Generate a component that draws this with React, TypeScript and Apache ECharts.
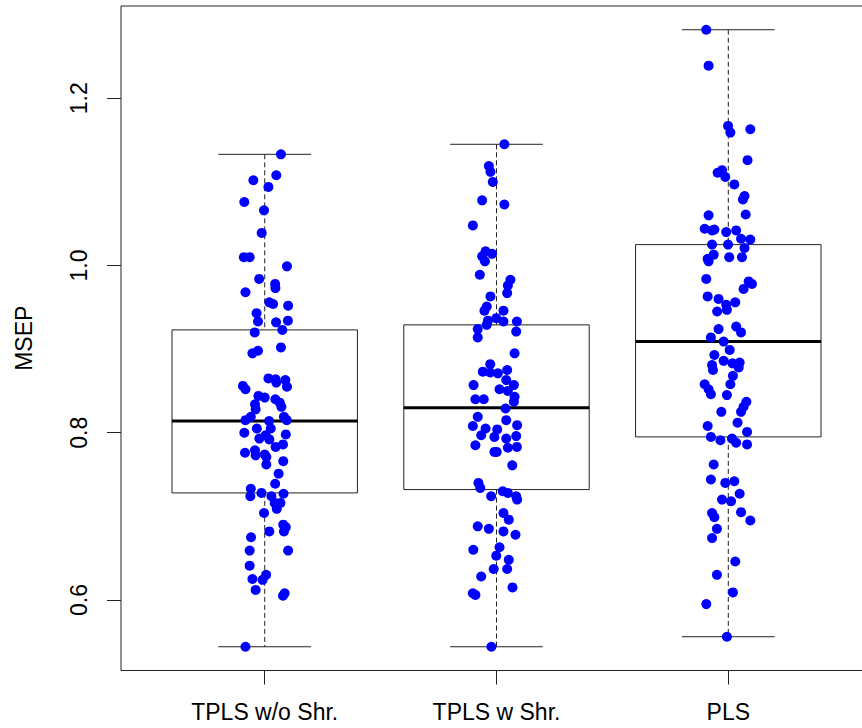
import React, { useEffect, useRef } from 'react';
import * as echarts from 'echarts';

const categories = ['TPLS w/o Shr.', 'TPLS w Shr.', 'PLS'];
const whiskerLow = [0.544, 0.544, 0.556];
const quartile1 = [0.728, 0.732, 0.795];
const medians = [0.814, 0.83, 0.909];
const quartile3 = [0.923, 0.929, 1.025];
const whiskerHigh = [1.133, 1.145, 1.282];
const yTicks = [0.6, 0.8, 1.0, 1.2];

// each point: [horizontal jitter offset, MSEP]
const tplsWoShrPoints: [number, number][] = [
  [0.07, 1.133], [-0.049, 1.102], [0.05, 1.108], [0.016, 1.094], [-0.088, 1.076],
  [-0.003, 1.066], [-0.013, 1.039], [-0.09, 1.01], [-0.065, 1.01], [0.096, 0.999],
  [-0.024, 0.984], [0.045, 0.978], [0.046, 0.973], [-0.083, 0.968], [0.02, 0.956],
  [0.036, 0.954], [0.101, 0.952], [-0.035, 0.943], [-0.029, 0.933], [0.049, 0.932],
  [0.1, 0.934], [0.076, 0.923], [-0.043, 0.92], [-0.053, 0.895], [-0.029, 0.898],
  [0.07, 0.902], [0.016, 0.865], [0.047, 0.864], [0.05, 0.86], [0.089, 0.863],
  [0.096, 0.855], [-0.094, 0.856], [-0.083, 0.852], [-0.027, 0.844], [0.0, 0.842],
  [0.046, 0.84], [0.065, 0.836], [0.072, 0.831], [-0.042, 0.834], [-0.039, 0.828],
  [-0.06, 0.819], [-0.083, 0.815], [0.019, 0.814], [0.083, 0.819], [0.095, 0.815],
  [-0.034, 0.805], [0.026, 0.805], [-0.088, 0.8], [0.004, 0.797], [-0.023, 0.793],
  [0.02, 0.792], [0.091, 0.798], [0.079, 0.786], [0.047, 0.783], [-0.085, 0.776],
  [-0.042, 0.779], [-0.039, 0.773], [0.0, 0.774], [0.007, 0.771], [0.08, 0.766],
  [0.007, 0.762], [0.06, 0.751], [0.045, 0.739], [-0.06, 0.733], [-0.062, 0.724],
  [-0.014, 0.728], [0.029, 0.724], [0.081, 0.727], [0.043, 0.716], [0.068, 0.716],
  [0.052, 0.709], [-0.003, 0.704], [0.08, 0.69], [0.091, 0.687], [0.083, 0.682],
  [0.02, 0.682], [-0.059, 0.675], [-0.065, 0.659], [0.101, 0.659], [-0.065, 0.641],
  [0.006, 0.63], [-0.009, 0.624], [-0.053, 0.625], [-0.039, 0.612], [0.086, 0.608],
  [0.079, 0.605], [-0.083, 0.544],
];

const tplsWShrPoints: [number, number][] = [
  [0.034, 1.145], [-0.033, 1.119], [-0.026, 1.112], [-0.016, 1.1], [-0.062, 1.078],
  [0.034, 1.073], [-0.102, 1.048], [-0.047, 1.017], [-0.019, 1.014], [-0.062, 1.011],
  [-0.05, 1.005], [-0.072, 0.989], [0.06, 0.983], [0.049, 0.976], [0.046, 0.967],
  [-0.026, 0.963], [-0.042, 0.951], [-0.052, 0.946], [0.03, 0.946], [-0.001, 0.937],
  [-0.037, 0.934], [0.03, 0.933], [0.088, 0.933], [-0.042, 0.929], [-0.081, 0.924],
  [0.085, 0.921], [-0.081, 0.914], [0.078, 0.895], [-0.027, 0.882], [-0.059, 0.873],
  [-0.027, 0.872], [0.006, 0.871], [0.046, 0.875], [-0.099, 0.857], [0.042, 0.863],
  [0.075, 0.857], [0.013, 0.852], [0.049, 0.85], [0.078, 0.843], [0.075, 0.837],
  [0.039, 0.829], [-0.091, 0.84], [-0.055, 0.84], [-0.081, 0.819], [-0.102, 0.808],
  [0.042, 0.815], [0.089, 0.809], [-0.047, 0.805], [0.003, 0.804], [-0.066, 0.797],
  [-0.009, 0.795], [0.042, 0.793], [0.085, 0.796], [-0.091, 0.785], [0.049, 0.782],
  [0.088, 0.783], [-0.009, 0.777], [0.001, 0.777], [0.068, 0.761], [-0.078, 0.74],
  [-0.07, 0.734], [-0.023, 0.724], [0.027, 0.73], [0.049, 0.728], [0.085, 0.724],
  [0.089, 0.72], [0.03, 0.704], [0.053, 0.696], [-0.081, 0.688], [-0.033, 0.685],
  [0.03, 0.682], [0.082, 0.678], [0.013, 0.663], [-0.1, 0.66], [-0.001, 0.653],
  [0.053, 0.648], [-0.012, 0.637], [0.046, 0.637], [-0.066, 0.628], [0.069, 0.615],
  [-0.102, 0.608], [-0.091, 0.606], [-0.022, 0.544],
];

const plsPoints: [number, number][] = [
  [-0.095, 1.282], [-0.085, 1.239], [-0.001, 1.167], [0.009, 1.159], [0.095, 1.163],
  [0.083, 1.126], [-0.046, 1.111], [-0.027, 1.114], [-0.013, 1.106], [0.026, 1.097],
  [0.07, 1.083], [0.063, 1.079], [-0.085, 1.06], [0.075, 1.061], [-0.102, 1.044],
  [-0.06, 1.043], [-0.07, 1.042], [-0.009, 1.04], [0.034, 1.042], [0.055, 1.032],
  [0.095, 1.031], [-0.07, 1.025], [-0.001, 1.025], [0.07, 1.021], [-0.063, 1.013],
  [-0.089, 1.008], [-0.085, 1.005], [0.004, 1.01], [0.059, 1.01], [-0.095, 0.984],
  [0.088, 0.981], [0.102, 0.978], [0.066, 0.972], [-0.089, 0.963], [-0.042, 0.96],
  [-0.009, 0.953], [0.03, 0.956], [-0.048, 0.945], [-0.006, 0.947], [0.034, 0.927],
  [0.055, 0.92], [-0.042, 0.924], [-0.075, 0.914], [-0.02, 0.909], [0.006, 0.899],
  [-0.06, 0.893], [-0.02, 0.886], [0.018, 0.883], [0.049, 0.884], [0.045, 0.878],
  [-0.07, 0.881], [-0.066, 0.875], [0.02, 0.868], [0.009, 0.858], [-0.102, 0.858],
  [-0.085, 0.852], [-0.075, 0.846], [-0.006, 0.845], [0.078, 0.837], [0.066, 0.831],
  [0.055, 0.825], [-0.03, 0.825], [0.04, 0.812], [-0.089, 0.808], [0.081, 0.801],
  [-0.075, 0.795], [0.016, 0.793], [-0.034, 0.791], [0.034, 0.788], [0.081, 0.786],
  [-0.063, 0.762], [-0.075, 0.744], [-0.013, 0.74], [0.026, 0.742], [0.049, 0.727],
  [-0.027, 0.72], [0.012, 0.718], [-0.07, 0.704], [-0.06, 0.699], [0.055, 0.705],
  [0.095, 0.695], [-0.049, 0.685], [-0.07, 0.674], [0.03, 0.646], [-0.049, 0.63],
  [0.02, 0.609], [-0.095, 0.595], [-0.006, 0.556],
];

const FONT = "'Liberation Sans', Arial, Helvetica, sans-serif";
const LINE = '#222';

export default function App() {
  const ref = useRef<HTMLDivElement>(null);

  useEffect(() => {
    document.body.style.margin = '0';
    const chart = echarts.init(ref.current!, null, { renderer: 'svg' });

    const boxData = categories.map((_, i) => [
      i + 1, whiskerLow[i], quartile1[i], medians[i], quartile3[i], whiskerHigh[i],
    ]);
    const groups = [tplsWoShrPoints, tplsWShrPoints, plsPoints];
    const scatterData = groups.flatMap((pts, i) => pts.map(([j, v]) => [i + 1 + j, v]));

    chart.setOption({
      animation: false,
      grid: {
        left: 121, width: 751, top: 6, height: 664.5,
        outerBoundsMode: 'none',
        containLabel: false,
        show: true, borderColor: LINE, borderWidth: 1, backgroundColor: 'transparent',
      },
      xAxis: {
        type: 'value', min: 0.38, max: 3.62,
        splitLine: { show: false },
        axisLine: { show: false },
        axisTick: { show: true, customValues: [1, 2, 3], length: 14, lineStyle: { color: LINE } },
        axisLabel: {
          customValues: [1, 2, 3],
          formatter: (v: number) => categories[Math.round(v) - 1] ?? '',
          fontSize: 23, color: '#000', fontFamily: FONT, margin: 30,
        },
      },
      yAxis: {
        type: 'value', min: 0.5156, max: 1.3104,
        name: 'MSEP', nameLocation: 'middle', nameGap: 86, nameRotate: 90,
        nameTextStyle: { fontSize: 23, color: '#000', fontFamily: FONT },
        splitLine: { show: false },
        axisLine: { show: false },
        axisTick: { show: true, customValues: yTicks, length: 14, lineStyle: { color: LINE } },
        axisLabel: {
          customValues: yTicks, rotate: 90,
          formatter: (v: number) => v.toFixed(1),
          fontSize: 23, color: '#000', fontFamily: FONT, margin: 31,
        },
      },
      series: [
        {
          type: 'custom',
          data: boxData,
          encode: { x: 0, y: [1, 2, 3, 4, 5] },
          z: 2,
          renderItem: (params: any, api: any) => {
            const x = api.value(0);
            const lo = api.value(1), q1 = api.value(2), med = api.value(3), q3 = api.value(4), hi = api.value(5);
            const c = api.coord([x, med]);
            const pLo = api.coord([x, lo]);
            const pHi = api.coord([x, hi]);
            const pQ1 = api.coord([x, q1]);
            const pQ3 = api.coord([x, q3]);
            const bl = api.coord([x - 0.4, q1]);
            const br = api.coord([x + 0.4, q1]);
            const cl = api.coord([x - 0.2, lo]);
            const cr = api.coord([x + 0.2, lo]);
            const stroke = { stroke: LINE, lineWidth: 1, fill: 'none' };
            return {
              type: 'group',
              children: [
                { type: 'line', shape: { x1: c[0], y1: pHi[1], x2: c[0], y2: pQ3[1] }, style: { ...stroke, lineDash: [5, 3] } },
                { type: 'line', shape: { x1: c[0], y1: pQ1[1], x2: c[0], y2: pLo[1] }, style: { ...stroke, lineDash: [5, 3] } },
                { type: 'line', shape: { x1: cl[0], y1: pHi[1], x2: cr[0], y2: pHi[1] }, style: stroke },
                { type: 'line', shape: { x1: cl[0], y1: pLo[1], x2: cr[0], y2: pLo[1] }, style: stroke },
                { type: 'rect', shape: { x: bl[0], y: pQ3[1], width: br[0] - bl[0], height: pQ1[1] - pQ3[1] }, style: { stroke: LINE, lineWidth: 1, fill: '#fff' } },
                { type: 'line', shape: { x1: bl[0], y1: c[1], x2: br[0], y2: c[1] }, style: { stroke: '#000', lineWidth: 3 } },
              ],
            };
          },
        },
        {
          type: 'scatter',
          data: scatterData,
          symbol: 'circle',
          symbolSize: 10,
          z: 5,
          itemStyle: { color: '#0000FF', opacity: 1 },
          emphasis: { disabled: true },
        },
      ],
    });

    return () => chart.dispose();
  }, []);

  return <div ref={ref} style={{ width: 862, height: 728 }} />;
}
